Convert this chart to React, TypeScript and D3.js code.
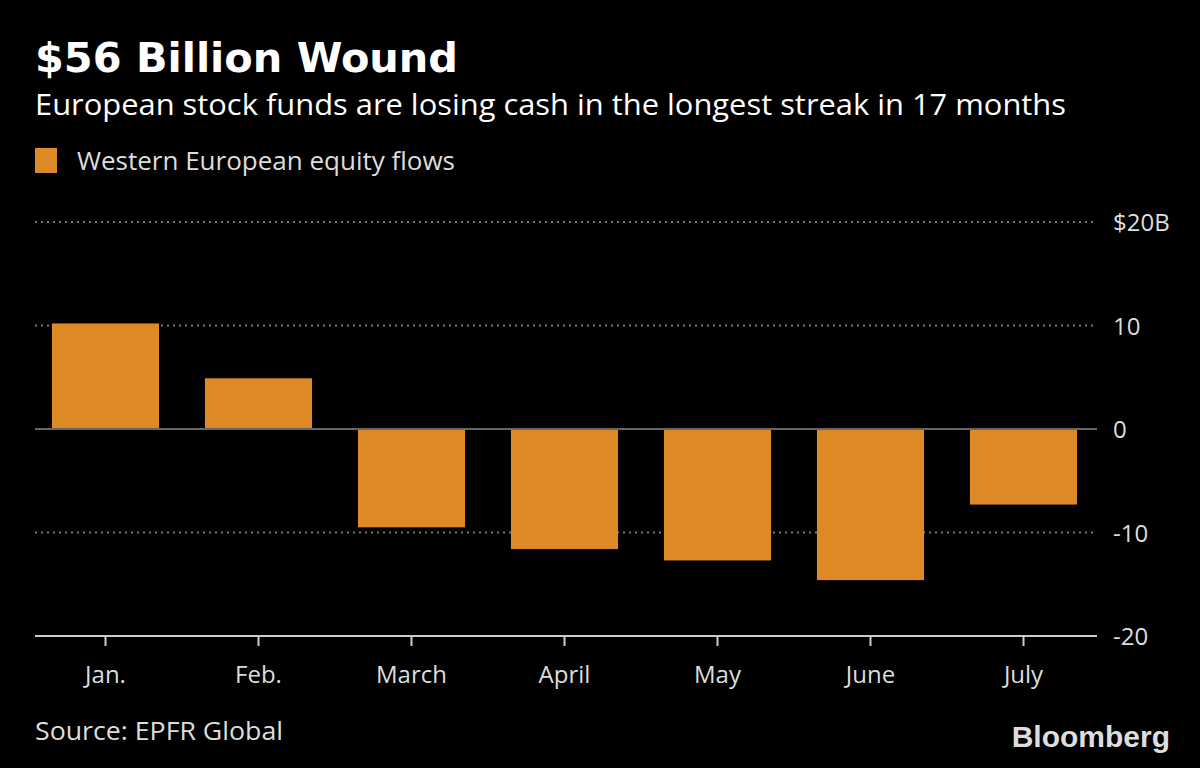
import React from "react";
import * as d3 from "d3";

const months = ["Jan.", "Feb.", "March", "April", "May", "June", "July"];
const flows = [10.2, 4.9, -9.5, -11.6, -12.7, -14.6, -7.3];
const yTicks = [20, 10, 0, -10, -20];
const seriesName = "Western European equity flows";

const W = 1200;
const H = 768;
const FONT = "'Open Sans', 'DejaVu Sans', sans-serif";

export default function App() {
  const x = d3
    .scaleBand<string>()
    .domain(months)
    .range([29, 1100])
    .paddingInner(0.3)
    .paddingOuter(0.15);
  const y = d3.scaleLinear().domain([-20, 20]).range([636, 222]);
  const left = 35;
  const right = 1097;

  return (
    <svg
      width={W}
      height={H}
      style={{ position: "absolute", left: 0, top: 0, background: "#000" }}
    >
      <rect x={0} y={0} width={W} height={H} fill="#000" />
      <text
        x={35}
        y={72}
        fill="#fff"
        fontFamily="'DejaVu Sans', sans-serif"
        fontWeight="bold"
        fontSize={40}
        textLength={423}
        lengthAdjust="spacingAndGlyphs"
      >
        $56 Billion Wound
      </text>
      <text
        x={35}
        y={115}
        fill="#fff"
        fontFamily={FONT}
        fontSize={29}
        textLength={1031}
        lengthAdjust="spacingAndGlyphs"
      >
        European stock funds are losing cash in the longest streak in 17 months
      </text>
      <rect x={35} y={148} width={22} height={25} fill="#DD8A26" />
      <text
        x={77}
        y={170}
        fill="#ddd"
        fontFamily={FONT}
        fontSize={25}
        textLength={378}
        lengthAdjust="spacingAndGlyphs"
      >
        {seriesName}
      </text>

      {yTicks.map((t) =>
        t === 0 || t === -20 ? null : (
          <line
            key={"g" + t}
            x1={left}
            x2={right}
            y1={y(t)}
            y2={y(t)}
            stroke="#777"
            strokeWidth={2}
            strokeDasharray="2,4"
          />
        )
      )}

      {months.map((m, i) => {
        const v = flows[i];
        const y0 = y(Math.max(0, v));
        const h = Math.abs(y(v) - y(0));
        return (
          <rect key={m} x={x(m)} y={y0} width={x.bandwidth()} height={h} fill="#DD8A26" />
        );
      })}

      <line x1={left} x2={right} y1={y(0)} y2={y(0)} stroke="#666" strokeWidth={2} />
      <line x1={left} x2={right} y1={y(-20)} y2={y(-20)} stroke="#ccc" strokeWidth={2} />
      {months.map((m) => {
        const cx = (x(m) as number) + x.bandwidth() / 2;
        return (
          <g key={"t" + m}>
            <line x1={cx} x2={cx} y1={y(-20)} y2={y(-20) + 10} stroke="#ccc" strokeWidth={2} />
            <text x={cx} y={683} textAnchor="middle" fill="#ddd" fontFamily={FONT} fontSize={24}>
              {m}
            </text>
          </g>
        );
      })}

      {yTicks.map((t) => (
        <text
          key={"l" + t}
          x={1113}
          y={y(t) + 9}
          fill="#ddd"
          fontFamily={FONT}
          fontSize={24}
        >
          {t === 20 ? "$20B" : t < 0 ? "-" + Math.abs(t) : String(t)}
        </text>
      ))}

      <text
        x={35}
        y={740}
        fill="#ddd"
        fontFamily={FONT}
        fontSize={25}
        textLength={248}
        lengthAdjust="spacingAndGlyphs"
      >
        Source: EPFR Global
      </text>
      <text
        x={1170}
        y={747}
        textAnchor="end"
        fill="#ddd"
        fontFamily="'Liberation Sans', Arial, sans-serif"
        fontWeight="bold"
        fontSize={30}
      >
        Bloomberg
      </text>
    </svg>
  );
}
